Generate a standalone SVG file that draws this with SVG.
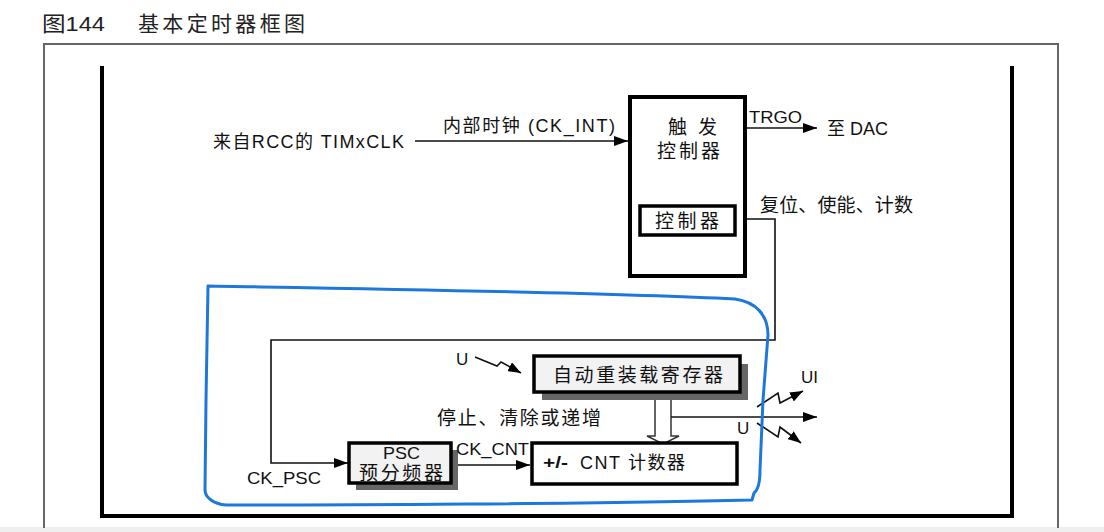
<svg xmlns="http://www.w3.org/2000/svg" width="1104" height="532" viewBox="0 0 1104 532">
<defs>
<style>
text{font-family:"Liberation Sans","Noto Sans CJK SC",sans-serif;fill:#111;}
.t17{font-size:17px;}
.t18{font-size:18px;}
.c19{font-size:19px;}
.title{font-size:21px;fill:#222;}
.ln{fill:none;stroke:#111;stroke-width:1.6;}
.box{fill:#fff;stroke:#000;stroke-width:4;}
.gbox{fill:#f2f2f2;stroke:#000;stroke-width:3.5;}
.shadow{fill:#666;}
</style>
<marker id="ah" markerWidth="14" markerHeight="10" refX="14" refY="5" orient="auto" markerUnits="userSpaceOnUse"><path d="M0,0 L14,5 L0,10 z" fill="#000"/></marker>
<marker id="ahs" markerWidth="13" markerHeight="10" refX="13" refY="5" orient="auto" markerUnits="userSpaceOnUse"><path d="M0,0 L13,5 L0,10 z" fill="#000"/></marker>
</defs>
<rect x="0" y="0" width="1104" height="532" fill="#fff"/>
<rect x="0" y="527" width="1104" height="5" fill="#efefef"/>

<g id="title">
<text class="title" x="42" y="31" textLength="63" lengthAdjust="spacingAndGlyphs">图144</text>
<text class="title" x="138" y="31" textLength="167" lengthAdjust="spacing">基本定时器框图</text>
</g>

<g id="frames">
<path d="M44,528 L44,44 L1058,44 L1058,528" fill="none" stroke="#666" stroke-width="2"/>
<path d="M102,66 L102,516 L1012,516 L1012,66" fill="none" stroke="#000" stroke-width="4"/>
</g>

<g id="connectors">
<line class="ln" x1="415" y1="141" x2="628" y2="141" marker-end="url(#ah)"/>
<line class="ln" x1="746" y1="128" x2="817" y2="128" marker-end="url(#ah)"/>
<polyline class="ln" points="746,219 775,219 775,340 271,340 271,463 348,463" marker-end="url(#ah)"/>
<line class="ln" x1="452" y1="465" x2="530" y2="465" marker-end="url(#ah)"/>
<polygon points="655,393 655,436 647,436 663,444 679,436 671,436 671,393" fill="#fff" stroke="#333" stroke-width="1.5"/>
<line class="ln" x1="671" y1="417" x2="817" y2="417" marker-end="url(#ah)"/>
<polyline class="ln" points="475,357 497,366 501,362 521,373" marker-end="url(#ahs)"/>
<polyline class="ln" points="757,407 778,393 780,403 803,391" marker-end="url(#ahs)"/>
<polyline class="ln" points="757,423 778,437 780,427 801,443" marker-end="url(#ahs)"/>
</g>

<g id="trigger-controller">
<rect class="box" x="630" y="97" width="115" height="179"/>
<text class="c19" x="668" y="134" textLength="49" lengthAdjust="spacing">触 发</text>
<text class="c19" x="657" y="158" textLength="63" lengthAdjust="spacing">控制器</text>
</g>

<g id="controller">
<rect x="640" y="206" width="95" height="29" fill="#fff" stroke="#000" stroke-width="3.5"/>
<text class="c19" x="655" y="228" textLength="64" lengthAdjust="spacing">控制器</text>
</g>

<g id="auto-reload">
<rect class="shadow" x="542" y="364" width="206" height="36"/>
<rect class="gbox" x="534" y="356" width="206" height="36"/>
<text class="c19" x="553" y="382" textLength="170" lengthAdjust="spacing">自动重装载寄存器</text>
</g>

<g id="psc">
<rect class="shadow" x="356" y="450" width="102" height="40"/>
<rect class="gbox" x="349" y="443" width="102" height="40"/>
<text class="t17" x="383" y="459" textLength="37" lengthAdjust="spacingAndGlyphs">PSC</text>
<text class="c19" x="359" y="480" textLength="84" lengthAdjust="spacing">预分频器</text>
</g>

<g id="cnt">
<rect x="532" y="443" width="205" height="41" fill="#fff" stroke="#000" stroke-width="3.5"/>
<text class="t17" x="543" y="468" font-weight="bold" textLength="25" lengthAdjust="spacingAndGlyphs">+/-</text>
<text class="t18" x="580" y="469" textLength="105" lengthAdjust="spacing">CNT 计数器</text>
</g>

<g id="labels">
<text class="t18" x="213" y="148" textLength="191" lengthAdjust="spacing">来自RCC的 TIMxCLK</text>
<text class="t18" x="443" y="132" textLength="172" lengthAdjust="spacing">内部时钟 (CK_INT)</text>
<text class="t17" x="749" y="123" textLength="53" lengthAdjust="spacingAndGlyphs">TRGO</text>
<text class="t18" x="827" y="135" textLength="61" lengthAdjust="spacing">至 DAC</text>
<text class="c19" x="760" y="212" textLength="153" lengthAdjust="spacing">复位、使能、计数</text>
<text class="c19" x="437" y="425" textLength="164" lengthAdjust="spacing">停止、清除或递增</text>
<text class="t17" x="456" y="455" textLength="73" lengthAdjust="spacingAndGlyphs">CK_CNT</text>
<text class="t17" x="247" y="484" textLength="74" lengthAdjust="spacingAndGlyphs">CK_PSC</text>
<text class="t17" x="456" y="365">U</text>
<text class="t17" x="801" y="383">UI</text>
<text class="t17" x="737" y="434">U</text>
</g>

<g id="highlight">
<path d="M208,286 C320,288 600,292 735,299 C756,302 768,315 768,335 L763,400 L760,470 C760,484 758,490 754,493 L752,500 C600,504 320,505 226,505 C213,504 205,497 205,490 L206,400 Z" fill="none" stroke="#1e78dc" stroke-width="3" stroke-linejoin="round"/>
</g>
</svg>
